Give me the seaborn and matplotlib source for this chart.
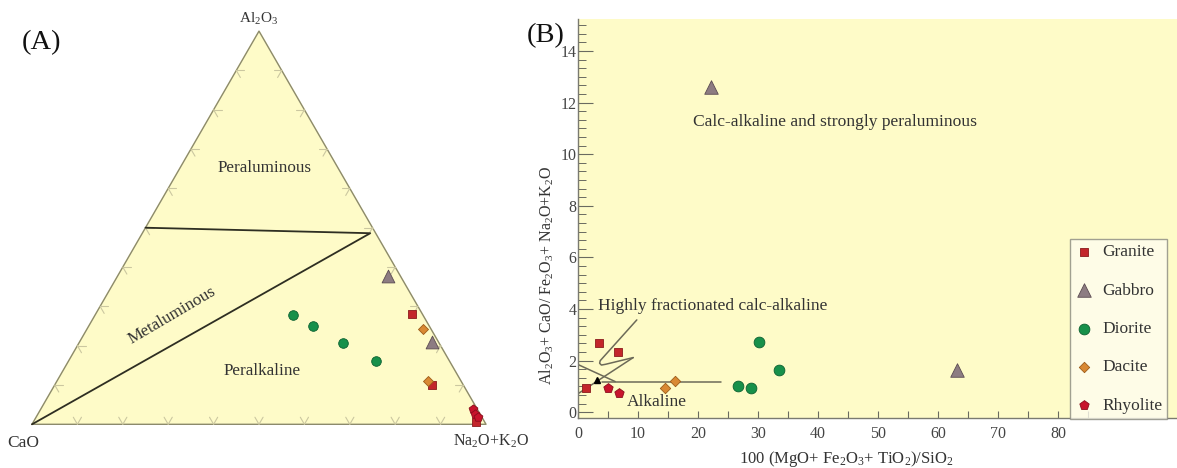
import numpy as np
import pandas as pd
import matplotlib
matplotlib.use("Agg")
import matplotlib.pyplot as plt
from matplotlib.ticker import FixedLocator, AutoMinorLocator
import seaborn as sns

# ---- data -------------------------------------------------------------
rock_types = ["Granite", "Gabbro", "Diorite", "Dacite", "Rhyolite"]

# (A) ternary compositions, percent: Al2O3, Na2O+K2O, CaO
tern_al = {
    "Granite": [28.0, 9.9, 0.6],
    "Gabbro": [37.6, 20.9],
    "Diorite": [27.9, 24.9, 20.8, 16.0],
    "Dacite": [24.3, 10.9],
    "Rhyolite": [4.0, 2.7, 1.9],
}
tern_nak = {
    "Granite": [69.6, 83.2, 97.4],
    "Gabbro": [59.5, 77.7],
    "Diorite": [43.6, 49.5, 58.0, 67.8],
    "Dacite": [74.0, 81.8],
    "Rhyolite": [95.2, 96.2, 97.2],
}
tern_ca = {
    "Granite": [2.4, 6.9, 2.0],
    "Gabbro": [2.8, 1.4],
    "Diorite": [28.5, 25.6, 21.2, 16.2],
    "Dacite": [1.7, 7.3],
    "Rhyolite": [0.8, 1.1, 0.9],
}
# field boundaries in (A): Al2O3, Na2O+K2O, CaO
bound_al = [50.0, 48.6, 0.0]
bound_nak = [0.0, 50.2, 0.0]
bound_ca = [50.0, 1.2, 100.0]

# (B) 100(MgO+Fe2O3+TiO2)/SiO2  vs  Al2O3+CaO/Fe2O3+Na2O+K2O
b_x = {
    "Granite": [3.5, 6.7, 1.4],
    "Gabbro": [22.1, 63.1],
    "Diorite": [30.1, 33.5, 26.6, 28.8],
    "Dacite": [14.5, 16.1],
    "Rhyolite": [4.95, 6.9],
}
b_y = {
    "Granite": [2.67, 2.35, 0.93],
    "Gabbro": [12.6, 1.64],
    "Diorite": [2.71, 1.64, 1.02, 0.95],
    "Dacite": [0.93, 1.22],
    "Rhyolite": [0.93, 0.76],
}
# field boundary lines in (B)
line_diag_x = [0.0, 6.2]
line_diag_y = [1.85, 1.19]
line_horiz_x = [4.0, 23.8]
line_horiz_y = [1.19, 1.19]
line_low_x = [0.0, 9.2]
line_low_y = [0.72, 2.12]
hook_x = [9.8, 3.7, 3.6, 3.9, 4.6, 9.2]
hook_y = [3.58, 2.0, 1.9, 1.83, 1.86, 2.12]

x_ticks = [0, 10, 20, 30, 40, 50, 60, 70, 80]
x_minor = [5, 15, 25, 35, 45, 55, 65, 75, 85]
y_ticks = [0, 2, 4, 6, 8, 10, 12, 14]

# ---- styles -----------------------------------------------------------
colors = {"Granite": "#c3262b", "Gabbro": "#8d7c82", "Diorite": "#17904a",
          "Dacite": "#d98933", "Rhyolite": "#c8142c"}
edges = {"Granite": "#8a1a1c", "Gabbro": "#5b4b52", "Diorite": "#0b6030",
         "Dacite": "#9c5a18", "Rhyolite": "#8a0c1c"}
markers = {"Granite": "s", "Gabbro": "^", "Diorite": "o",
           "Dacite": "D", "Rhyolite": "p"}
sizes_b = {"Granite": 40, "Gabbro": 95, "Diorite": 60, "Dacite": 28, "Rhyolite": 50}
sizes_a = {"Granite": 34, "Gabbro": 85, "Diorite": 48, "Dacite": 26, "Rhyolite": 44}

yellow = "#fefbc8"
line_col = "#6c6a58"
text_col = "#333333"

sns.set_theme(style="white")
plt.rcParams["font.family"] = ["Liberation Serif", "DejaVu Serif"]
plt.rcParams["mathtext.fontset"] = "custom"
plt.rcParams["mathtext.rm"] = "Liberation Serif"


def sub(s):
    return r"$\mathregular{_{" + s + "}}$"


def tern_xy(al, nak, ca):
    al, nak, ca = np.asarray(al, float), np.asarray(nak, float), np.asarray(ca, float)
    tot = al + nak + ca
    c = al / tot
    b = nak / tot
    return b + c / 2, c * np.sqrt(3) / 2


fig = plt.figure(figsize=(11.77, 4.68), dpi=100)

# ---- (A) ternary ------------------------------------------------------
axA = fig.add_axes([0, 0, 520 / 1177, 1])
axA.set_xlim(-32 / 454, 488 / 454)
axA.set_ylim(-43.7 / 454, 424.3 / 454)

h = np.sqrt(3) / 2
axA.fill([0, 1, 0.5, 0], [0, 0, h, 0], color=yellow, zorder=0)
axA.plot([0, 1, 0.5, 0], [0, 0, h, 0], color="#8c8a6c", lw=1.0, zorder=1)

# small inward ticks every 10 %
L = 0.018
tick_col = "#cbc7a0"
for t in np.arange(0.1, 1.0, 0.1):
    px, py = t, 0.0
    for dx, dy in [(0.5, h), (-0.5, h)]:
        axA.plot([px, px + L * dx], [py, py + L * dy], color=tick_col, lw=0.8, zorder=1)
    px, py = t / 2, t * h
    for dx, dy in [(1, 0), (0.5, -h)]:
        axA.plot([px, px + L * dx], [py, py + L * dy], color=tick_col, lw=0.8, zorder=1)
    px, py = 1 - t / 2, t * h
    for dx, dy in [(-1, 0), (-0.5, -h)]:
        axA.plot([px, px + L * dx], [py, py + L * dy], color=tick_col, lw=0.8, zorder=1)

bx, by = tern_xy(bound_al, bound_nak, bound_ca)
axA.plot(bx, by, color="#2e2e22", lw=1.3, zorder=2)

rowsA = []
for r in rock_types:
    xs, ys = tern_xy(tern_al[r], tern_nak[r], tern_ca[r])
    for x, y in zip(xs, ys):
        rowsA.append({"rock": r, "x": x, "y": y})
dfA = pd.DataFrame(rowsA)
for r in rock_types:
    sns.scatterplot(data=dfA[dfA.rock == r], x="x", y="y", ax=axA,
                    color=colors[r], marker=markers[r], s=sizes_a[r],
                    edgecolor=edges[r], linewidth=0.6, zorder=3, legend=False)
axA.axis("off")

axA.text(0.5, 0.893, "Al" + sub("2") + "O" + sub("3"), ha="center", va="center",
         fontsize=11, color=text_col)
axA.text(-0.02, -0.042, "CaO", ha="center", va="center", fontsize=12.5, color=text_col)
axA.text(1.01, -0.038, "Na" + sub("2") + "O+K" + sub("2") + "O", ha="center",
         va="center", fontsize=11.5, color=text_col)
axA.text(0.513, 0.564, "Peraluminous", ha="center", va="center", fontsize=12.3,
         color=text_col)
axA.text(0.3077, 0.2407, "Metaluminous", ha="center", va="center", fontsize=12.3,
         color=text_col, rotation=30.5, rotation_mode="anchor")
axA.text(0.506, 0.118, "Peralkaline", ha="center", va="center", fontsize=12.3,
         color=text_col)
fig.text(41 / 1177, 1 - 43 / 468, "(A)", ha="center", va="center",
         fontsize=20.5, color="#111111")

# ---- (B) Sylvester diagram -------------------------------------------
axB = fig.add_axes([578 / 1177, 50.3 / 468, 599 / 1177, 398.7 / 468])
axB.set_facecolor(yellow)
axB.set_xlim(0, 99.8)
axB.set_ylim(-0.21, 15.24)

for lx, ly in [(line_diag_x, line_diag_y), (line_horiz_x, line_horiz_y),
               (line_low_x, line_low_y)]:
    axB.plot(lx, ly, color=line_col, lw=1.1, zorder=2)
axB.plot(hook_x, hook_y, color=line_col, lw=1.1, zorder=2)
axB.plot([3.1], [1.27], marker="^", color="black", ms=5, zorder=3)

rowsB = []
for r in rock_types:
    for x, y in zip(b_x[r], b_y[r]):
        rowsB.append({"rock": r, "x": x, "y": y})
dfB = pd.DataFrame(rowsB)
for r in rock_types:
    sns.scatterplot(data=dfB[dfB.rock == r], x="x", y="y", ax=axB,
                    color=colors[r], marker=markers[r], s=sizes_b[r],
                    edgecolor=edges[r], linewidth=0.6, zorder=4, label=r)

axB.text(42.9, 11.24, "Calc-alkaline and strongly peraluminous", ha="center",
         va="center", fontsize=12.6, color=text_col)
axB.text(3.35, 4.12, "Highly fractionated calc-alkaline", ha="left", va="center",
         fontsize=12.5, color=text_col)
axB.text(8.1, 0.41, "Alkaline", ha="left", va="center", fontsize=12.5, color=text_col)

for s in ["top", "right"]:
    axB.spines[s].set_visible(False)
for s in ["left", "bottom"]:
    axB.spines[s].set_color("#7a7a70")
    axB.spines[s].set_linewidth(1.0)

axB.xaxis.set_major_locator(FixedLocator(x_ticks))
axB.xaxis.set_minor_locator(FixedLocator(x_minor))
axB.yaxis.set_major_locator(FixedLocator(y_ticks))
axB.yaxis.set_minor_locator(AutoMinorLocator(6))
axB.tick_params(axis="x", which="both", direction="in", length=5, width=0.8,
                color="#6a6a60", labelsize=11.5, labelcolor="#444444", pad=6,
                bottom=True)
axB.tick_params(axis="y", which="major", direction="in", length=11, width=0.8,
                color="#6a6a60", labelsize=11.5, labelcolor="#444444", pad=1,
                left=True)
axB.tick_params(axis="y", which="minor", direction="in", length=6, width=0.7,
                color="#6a6a60", left=True)

axB.set_xlabel("100 (MgO+ Fe" + sub("2") + "O" + sub("3") + "+ TiO" + sub("2")
               + ")/SiO" + sub("2"), fontsize=12, color=text_col)
axB.set_ylabel("Al" + sub("2") + "O" + sub("3") + "+ CaO/ Fe" + sub("2") + "O"
               + sub("3") + "+ Na" + sub("2") + "O+K" + sub("2") + "O",
               fontsize=11.5, color=text_col)
axB.xaxis.set_label_coords((846 - 578) / 599, -31 / 399)
axB.yaxis.set_label_coords(-22 / 599, (418 - 275) / 399)

leg = axB.legend(loc="upper left", bbox_to_anchor=(1070 / 1177, 1 - 239 / 468),
                 bbox_transform=fig.transFigure, borderaxespad=0, frameon=True,
                 fancybox=False, fontsize=12.5, labelspacing=1.28,
                 handletextpad=0.55, borderpad=0.3, handlelength=1.0,
                 labelcolor=text_col)
leg.get_frame().set_facecolor("#fffdf0")
leg.get_frame().set_edgecolor("#8a8a80")
leg.get_frame().set_linewidth(1.0)
leg.set_zorder(10)

fig.text(546 / 1177, 1 - 36 / 468, "(B)", ha="center", va="center",
         fontsize=20.5, color="#111111")

fig.savefig("out.png", dpi=100, facecolor="white")
